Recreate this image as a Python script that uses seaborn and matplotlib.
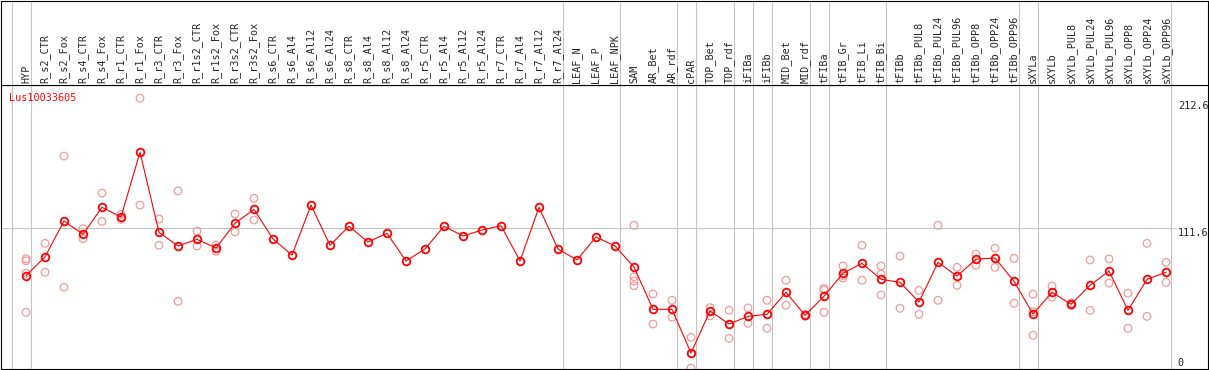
import numpy as np
import pandas as pd
import seaborn as sns
import matplotlib.pyplot as plt
from matplotlib import transforms

gene = "Lus10033605"

labels = [
    "HYP", "R_s2_CTR", "R_s2_Fox", "R_s4_CTR", "R_s4_Fox", "R_r1_CTR", "R_r1_Fox",
    "R_r3_CTR", "R_r3_Fox", "R_r1s2_CTR", "R_r1s2_Fox", "R_r3s2_CTR", "R_r3s2_Fox",
    "R_s6_CTR", "R_s6_Al4", "R_s6_Al12", "R_s6_Al24",
    "R_s8_CTR", "R_s8_Al4", "R_s8_Al12", "R_s8_Al24",
    "R_r5_CTR", "R_r5_Al4", "R_r5_Al12", "R_r5_Al24",
    "R_r7_CTR", "R_r7_Al4", "R_r7_Al12", "R_r7_Al24",
    "LEAF_N", "LEAF_P", "LEAF_NPK",
    "SAM", "AR_Bet", "AR_rdf", "cPAR", "TOP_Bet", "TOP_rdf", "iFIBa", "iFIBb",
    "MID_Bet", "MID_rdf", "tFIBa", "tFIB_Gr", "tFIB_Li", "tFIB_Bi", "tFIBb",
    "tFIBb_PUL8", "tFIBb_PUL24", "tFIBb_PUL96", "tFIBb_OPP8", "tFIBb_OPP24", "tFIBb_OPP96",
    "sXYLa", "sXYLb",
    "sXYLb_PUL8", "sXYLb_PUL24", "sXYLb_PUL96", "sXYLb_OPP8", "sXYLb_OPP24", "sXYLb_OPP96",
]

means = [
    73.9, 88.8, 117.4, 106.8, 128.3, 120.6, 172.1, 108.4, 97.5, 102.8, 95.9, 115.6, 126.7,
    103.1, 90.3, 130.1, 98.1,
    113.2, 100.7, 107.6, 85.6,
    95.1, 113.2, 105.5, 110.2,
    113.7, 85.6, 128.3, 95.1,
    86.4, 104.7, 97.5,
    80.8, 47.1, 47.1, 12.3, 45.8, 35.4, 41.5, 43.1, 60.7, 42.3,
    57.5, 75.8, 83.7, 71.0, 68.6,
    52.9, 84.5, 73.6, 86.9, 88.0, 69.4,
    43.4, 60.7,
    51.1, 66.2, 77.6, 46.3, 71.0, 76.6,
]

reps = [
    [87.4, 85.8, 75.8, 44.7], [99.6, 76.6], [169.1, 64.6], [111.3, 103.3],
    [139.7, 117.1], [122.7, 118.7], [130.1, 215.1], [119.0, 98.1], [141.3, 53.5],
    [109.4, 97.5], [98.3, 93.3], [123.0, 108.7], [135.5, 118.2],
    [], [], [], [], [], [], [], [], [], [], [], [], [], [], [], [], [], [], [],
    [114.0, 73.1, 69.6, 65.9], [59.3, 35.4], [54.3, 40.8], [24.8, 0.3],
    [48.4, 42.0], [46.3, 24.0], [48.2, 36.0], [54.3, 32.0], [70.2, 50.3], [43.0, 41.6],
    [63.8, 62.5, 44.7], [81.6, 73.9, 72.0], [98.1, 70.2], [81.6, 75.0, 58.5], [89.5, 47.9],
    [62.2, 43.1], [114.0, 54.3], [80.5, 66.2], [91.1, 82.1], [95.7, 80.5], [87.7, 51.9],
    [59.1, 45.2, 26.4], [65.7, 56.9],
    [52.0, 50.2], [86.4, 46.3], [87.2, 68.0], [59.9, 32.0], [99.6, 41.5], [84.5, 68.6],
]

# group boundaries (line drawn just right of these sample positions)
separators = [-1, 0, 28, 31, 34, 35, 37, 38, 39, 41, 42, 45, 52, 53, 60]
y_ticks = [0, 111.6, 212.6]

mean_df = pd.DataFrame({"pos": np.arange(len(labels)), "value": means})
rep_df = pd.DataFrame(
    [(i, v) for i, vals in enumerate(reps) for v in vals], columns=["pos", "value"]
)

sns.set_style("white")
plt.rcParams["font.family"] = ["DejaVu Sans Mono", "DejaVu Sans"]

W, H = 1209, 370
fig = plt.figure(figsize=(W / 100, H / 100), dpi=100)
ax = fig.add_axes([1 / W, 1 / H, 1207 / W, 284 / H])
hd = fig.add_axes([1 / W, 285 / H, 1207 / W, 84.5 / H], sharex=ax)

for a in (ax, hd):
    for s in a.spines.values():
        s.set_color("black")
        s.set_linewidth(0.8)
    a.set_xticks([])
    a.set_yticks([])
    for sep in separators:
        a.axvline(sep + 0.24, color="#c4c4c4", lw=0.8, zorder=0)

ax.set_xlim(-1.316, 62.21)
ax.set_ylim(-0.4, 225.66)
hd.set_ylim(0, 1)

ax.axhline(111.6, xmin=0, xmax=0.9735, color="#c4c4c4", lw=0.8, zorder=0)

sns.scatterplot(
    data=rep_df, x="pos", y="value", ax=ax, marker="o", s=30,
    facecolor="none", edgecolor="#f29a9a", linewidth=0.9, zorder=2, legend=False,
)
sns.lineplot(
    data=mean_df, x="pos", y="value", ax=ax, estimator=None, color="red", lw=0.8,
    marker="o", ms=5.5, mfc="none", mec="red", mew=1.3, zorder=3,
)
ax.set(xlabel=None, ylabel=None)

lab_tr = transforms.blended_transform_factory(hd.transData, hd.transAxes)
for i, lab in enumerate(labels):
    hd.text(i, 0.02, lab, rotation=90, ha="center", va="bottom",
            fontsize=7.3, transform=lab_tr)

tick_tr = transforms.blended_transform_factory(ax.transAxes, ax.transData)
for v in y_ticks:
    ax.text(0.9749, v, f"{v:g}", ha="left", va="bottom" if v == 0 else "top",
            fontsize=7.3, transform=tick_tr)

fig.text(9.3 / W, 1 - 98 / H, gene, color="red", ha="left", va="center", fontsize=7.3)

fig.savefig("out.png", dpi=100)
